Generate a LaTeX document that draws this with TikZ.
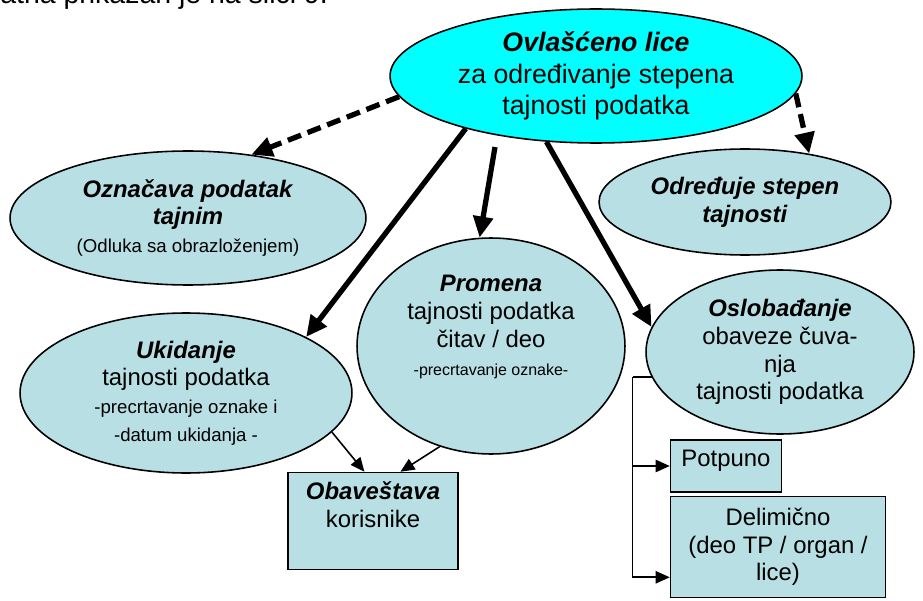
\documentclass[tikz,border=0pt]{standalone}
\usepackage{fontspec}
\setmainfont{Liberation Sans}
\usetikzlibrary{shapes.geometric,arrows.meta,calc}
\definecolor{topcyan}{RGB}{0,255,255}
\definecolor{paleblue}{RGB}{184,223,228}
\newcommand{\bi}[1]{\textbf{\textit{#1}}}
\newcommand{\smalltxt}{\fontsize{10.6}{15}\selectfont}
\newcommand{\tinytxt}{\fontsize{9.1}{13}\selectfont}

\begin{document}
\begin{tikzpicture}[x=0.02cm,y=-0.02cm,
	oval/.style={ellipse,draw,line width=0.9pt,fill=paleblue,inner sep=0pt,align=center,font=\fontsize{13.6}{15.8}\selectfont},
	box/.style={rectangle,draw,line width=0.9pt,fill=paleblue,inner sep=0pt,align=center,font=\fontsize{13.6}{15.8}\selectfont},
	txt/.style={align=center,inner sep=0pt,font=\fontsize{13.6}{15.8}\selectfont},
	bigarrow/.style={line width=3pt,-{Triangle[length=12pt,width=11pt]}},
	dasharrow/.style={bigarrow,dash pattern=on 8pt off 4pt},
	thinarrow/.style={line width=0.9pt,-{Triangle[length=8pt,width=7pt]}}]
			\useasboundingbox (0,0) rectangle (923,601);

			\node[anchor=base west,inner sep=0pt,font=\fontsize{16.2}{19}\selectfont] (intro) at (0,4) {atna prikazan je na slici 9.};

			\node[oval,fill=topcyan,minimum width=8.24cm,minimum height=2.68cm,font=\fontsize{15.2}{18}\selectfont] (ovl) at (596,76) {\bi{Ovlašćeno lice}\\za određivanje stepena\\tajnosti podatka};
			\node[oval,minimum width=7.12cm,minimum height=2.68cm] (oznac) at (188,218) {\bi{Označava podatak}\\\bi{tajnim}\\{\smalltxt(Odluka sa obrazloženjem)}};
			\node[oval,minimum width=5.84cm,minimum height=2.12cm] (odred) at (745,202) {\bi{Određuje stepen}\\\bi{tajnosti}};
			\node[oval,minimum width=5.36cm,minimum height=4.32cm] (prom) at (491,346) {};
			\node[txt] (promtxt) at (491,327) {\bi{Promena}\\tajnosti podatka\\čitav / deo\\{\tinytxt -precrtavanje oznake-}};
			\node[oval,minimum width=6.64cm,minimum height=3.2cm] (ukid) at (186,393) {\bi{Ukidanje}\\tajnosti podatka\\{\smalltxt -precrtavanje oznake i}\\{\smalltxt -datum ukidanja -}};
			\node[oval,minimum width=5.36cm,minimum height=3.28cm] (oslob) at (780,352) {\bi{Oslobađanje}\\obaveze čuva-\\nja\\tajnosti podatka};
			\node[box,minimum width=3.4cm,minimum height=1.94cm] (obav) at (373,521) {};
			\node[txt] (obavtxt) at (373,505) {\bi{Obaveštava}\\korisnike};
			\node[box,minimum width=2.22cm,minimum height=1.04cm] (potp) at (726,466) {};
			\node[txt] (potptxt) at (726,461) {Potpuno};
			\node[box,minimum width=4.3cm,minimum height=2.02cm] (delim) at (778,547) {Delimično\\(deo TP / organ /\\lice)};

			\coordinate (promstart) at (495,147);

			\draw[dasharrow] (ovl.186) -- (oznac.45);
			\draw[dasharrow] (ovl.355) -- (odred.37);
			\draw[bigarrow] (ovl.202) -- (ukid.25);
			\draw[bigarrow] (promstart) -- (prom.96);
			\draw[bigarrow] (ovl.233) -- (oslob.169);
			\draw[thinarrow] (ukid.345) -- ($(obav.north west)!0.45!(obav.north east)$);
			\draw[thinarrow] (prom.243) -- ($(obav.north west)!0.66!(obav.north east)$);
			\draw[line width=0.9pt] (oslob.191) -- ++(-19,0) coordinate (fork);
			\draw[thinarrow] (fork) |- (potp.west);
			\draw[thinarrow] (fork) |- ($(delim.south west)+(0,-21)$);
		\end{tikzpicture}
\end{document}
